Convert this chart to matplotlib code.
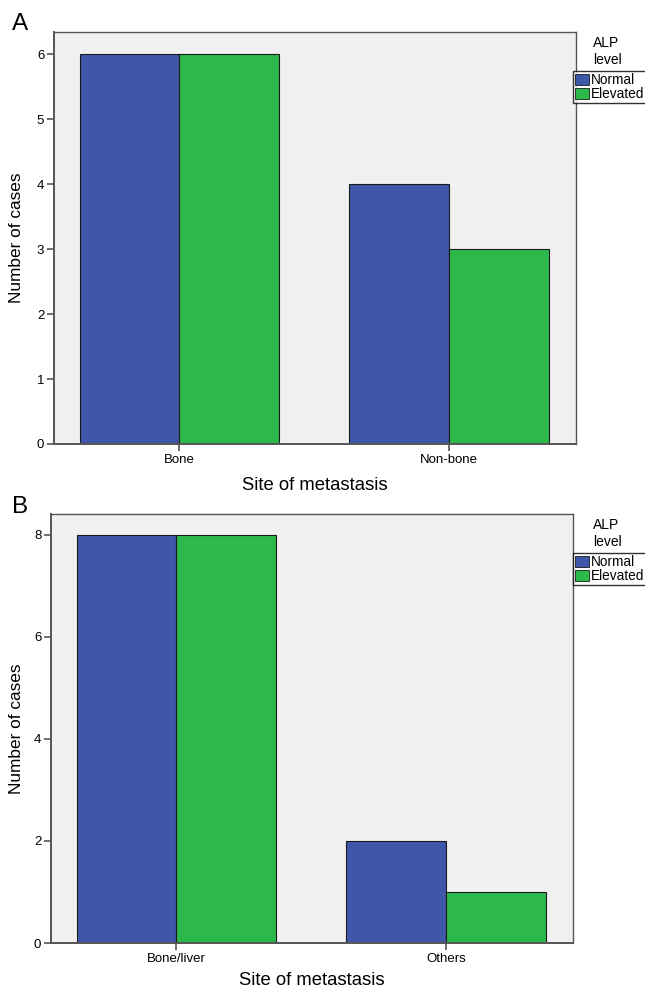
import matplotlib
matplotlib.use("Agg")
import matplotlib.pyplot as plt
from matplotlib.patches import Patch
import numpy as np

plt.rcParams['font.family'] = ['Liberation Sans', 'DejaVu Sans']

# Data
cats_a = ["Bone", "Non-bone"]
normal_a = [6, 4]
elevated_a = [6, 3]

cats_b = ["Bone/liver", "Others"]
normal_b = [8, 2]
elevated_b = [8, 1]

series_names = ["Normal", "Elevated"]
yticks_a = [0, 1, 2, 3, 4, 5, 6]
yticks_b = [0, 2, 4, 6, 8]

BLUE = "#3E57A9"
GREEN = "#2DB84B"
BG = "#F0F0F0"
FRAME = "#555555"

W, H = 645, 990
fig = plt.figure(figsize=(W / 100, H / 100), dpi=100)


def px_axes(left, right, top, bottom):
    return fig.add_axes([left / W, 1 - bottom / H, (right - left) / W, (bottom - top) / H])


def draw_panel(ax, cats, normal, elevated, yticks, ytop, letter, letter_y, leg_top, ylab_x, xlab_pad):
    x = np.arange(len(cats))
    w = 0.37
    ax.set_facecolor(BG)
    ax.bar(x - w / 2, normal, w, color=BLUE, edgecolor="#1a1a1a", linewidth=0.8, zorder=2)
    ax.bar(x + w / 2, elevated, w, color=GREEN, edgecolor="#1a1a1a", linewidth=0.8, zorder=2)
    ax.set_xlim(-0.465, 1.47)
    ax.set_ylim(0, ytop)
    ax.set_yticks(yticks)
    ax.set_yticklabels([str(t) for t in yticks], fontsize=9.5)
    ax.set_xticks(x)
    ax.set_xticklabels(cats, fontsize=9.5)
    ax.tick_params(axis="both", length=5, width=1.2, color=FRAME, pad=2)
    for s in ax.spines.values():
        s.set_color(FRAME)
        s.set_linewidth(1.0)
    ax.spines["left"].set_linewidth(1.4)
    ax.spines["bottom"].set_linewidth(1.4)
    ax.set_xlabel("Site of metastasis", fontsize=13.3, labelpad=xlab_pad)
    ax.set_ylabel("Number of cases", fontsize=12.4)
    ax.yaxis.set_label_coords(ylab_x, 0.5)
    # panel letter
    fig.text(12 / W, 1 - letter_y / H, letter, fontsize=17.5, va="center", ha="left")
    # legend title
    fig.text(593 / W, 1 - (leg_top - 28) / H, "ALP", fontsize=10, va="center", ha="left")
    fig.text(593 / W, 1 - (leg_top - 11) / H, "level", fontsize=10, va="center", ha="left")
    handles = [Patch(facecolor=BLUE, edgecolor="#1a1a1a", linewidth=0.6, label=series_names[0]),
               Patch(facecolor=GREEN, edgecolor="#1a1a1a", linewidth=0.6, label=series_names[1])]
    leg = fig.legend(handles=handles, loc="upper left",
                     bbox_to_anchor=(573 / W, 1 - leg_top / H),
                     fontsize=9.8, frameon=True, fancybox=False,
                     handlelength=1.0, handleheight=0.85, handletextpad=0.2,
                     labelspacing=0.0, borderpad=0.15, borderaxespad=0)
    leg.get_frame().set_edgecolor("black")
    leg.get_frame().set_linewidth(1.0)
    leg.get_frame().set_facecolor("white")
    return ax


axA = px_axes(54, 576, 32, 444)
draw_panel(axA, cats_a, normal_a, elevated_a, yticks_a, 6.34, "A", 24, 71, (24 - 54) / 522, 8)

axB = px_axes(51, 573, 514, 943)
draw_panel(axB, cats_b, normal_b, elevated_b, yticks_b, 8.41, "B", 507, 553, (24 - 51) / 522, 5)

fig.savefig("out.png", dpi=100)
